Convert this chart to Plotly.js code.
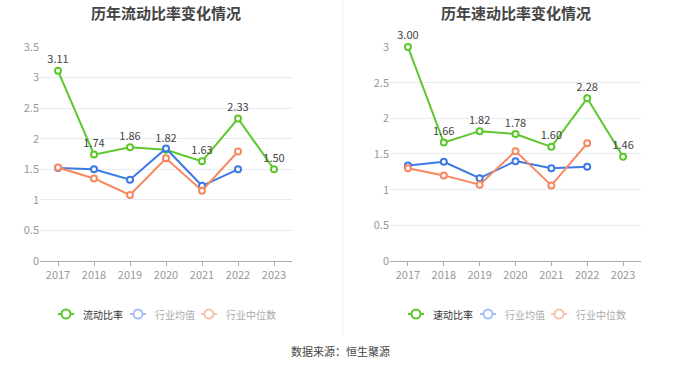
<!DOCTYPE html>
<html><head><meta charset="utf-8">
<script src="https://cdn.plot.ly/plotly-3.0.1.min.js"></script>
<style>html,body{margin:0;padding:0;background:#fff}#c{width:680px;height:367px}</style>
</head><body><div id="c"></div>
<script>
const years = ['2017','2018','2019','2020','2021','2022','2023'];
const currentRatio = [3.11, 1.74, 1.86, 1.82, 1.63, 2.33, 1.50];
const currentAvg = [1.52, 1.50, 1.33, 1.84, 1.23, 1.50];
const currentMedian = [1.53, 1.35, 1.08, 1.68, 1.15, 1.79];
const quickRatio = [3.00, 1.66, 1.82, 1.78, 1.60, 2.28, 1.46];
const quickAvg = [1.34, 1.39, 1.16, 1.40, 1.30, 1.32];
const quickMedian = [1.30, 1.20, 1.07, 1.54, 1.06, 1.65];
const leftTicks = [0, 0.5, 1, 1.5, 2, 2.5, 3, 3.5];
const rightTicks = [0, 0.5, 1, 1.5, 2, 2.5, 3];
const leftLegend = ['流动比率', '行业均值', '行业中位数'];
const rightLegend = ['速动比率', '行业均值', '行业中位数'];

const GREEN = '#5cc72a', BLUE = '#3d79e6', ORANGE = '#f7875e';
const FONT = '"Noto Sans CJK SC", "Noto Sans", sans-serif';
const W = 680, H = 367;

function series(x, y, name, color, xa, ya, withText) {
  const t = {
    x: x, y: y, name: name, xaxis: xa, yaxis: ya, showlegend: false,
    type: 'scatter', mode: withText ? 'lines+markers+text' : 'lines+markers',
    line: {color: color, width: 2},
    marker: {symbol: 'circle', size: 6, color: '#fff', line: {color: color, width: 2}},
    hoverinfo: 'none', cliponaxis: false
  };
  if (withText) {
    t.text = y.map(v => v.toFixed(2));
    t.textposition = 'top center';
    t.textfont = {size: 11, color: '#444', family: FONT};
  }
  return t;
}

const data = [
  series(years, currentRatio, leftLegend[0], GREEN, 'x', 'y', true),
  series(years.slice(0, 6), currentAvg, leftLegend[1], BLUE, 'x', 'y', false),
  series(years.slice(0, 6), currentMedian, leftLegend[2], ORANGE, 'x', 'y', false),
  series(years, quickRatio, rightLegend[0], GREEN, 'x2', 'y2', true),
  series(years.slice(0, 6), quickAvg, rightLegend[1], BLUE, 'x2', 'y2', false),
  series(years.slice(0, 6), quickMedian, rightLegend[2], ORANGE, 'x2', 'y2', false)
];

const xax = (dom, anchor) => ({
  domain: dom, anchor: anchor, type: 'category', range: [-0.5, 6.5],
  showgrid: false, showline: true, linecolor: '#aaa', linewidth: 1,
  ticks: 'outside', ticklen: 4, tickcolor: '#aaa',
  tickfont: {size: 11, color: '#999', family: FONT}, fixedrange: true
});
const yax = (range, ticks, anchor) => ({
  domain: [0.2888, 0.872], anchor: anchor, range: range,
  tickvals: ticks, ticktext: ticks.map(String),
  showgrid: true, gridcolor: '#e8ebf2', gridwidth: 1, zeroline: false, showline: false,
  ticks: '', tickfont: {size: 11, color: '#999', family: FONT}, fixedrange: true
});

const shapes = [
  {type: 'line', xref: 'paper', yref: 'paper', x0: 343/W, x1: 343/W, y0: (H-336)/H, y1: 1,
   line: {color: '#f0f0f0', width: 1}}
];
const annotations = [
  {text: '<b>历年流动比率变化情况</b>', xref: 'paper', yref: 'paper', x: 166/W, y: (H-12)/H,
   xanchor: 'center', yanchor: 'middle', showarrow: false, font: {size: 15, color: '#444', family: FONT}},
  {text: '<b>历年速动比率变化情况</b>', xref: 'paper', yref: 'paper', x: 516/W, y: (H-12)/H,
   xanchor: 'center', yanchor: 'middle', showarrow: false, font: {size: 15, color: '#444', family: FONT}},
  {text: '数据来源：恒生聚源', xref: 'paper', yref: 'paper', x: 0.5, y: (H-351)/H,
   xanchor: 'center', yanchor: 'middle', showarrow: false, font: {size: 11, color: '#444', family: FONT}}
];

// manual legends
const legColors = ['#5cc72a', '#a4bff2', '#f9c2ac'];
const legText = ['#333', '#aaa', '#aaa'];
function addLegend(names, starts) {
  const ly = 314;
  names.forEach((n, i) => {
    const x0 = starts[i], cx = x0 + 8;
    shapes.push({type: 'line', xref: 'paper', yref: 'paper', x0: x0/W, x1: (x0+16)/W, y0: (H-ly)/H, y1: (H-ly)/H,
      line: {color: legColors[i], width: 2}});
    shapes.push({type: 'circle', xref: 'paper', yref: 'paper', x0: (cx-4.5)/W, x1: (cx+4.5)/W,
      y0: (H-ly-4.5)/H, y1: (H-ly+4.5)/H, fillcolor: '#fff', line: {color: legColors[i], width: 2}});
    annotations.push({text: n, xref: 'paper', yref: 'paper', x: (x0+23)/W, y: (H-ly)/H,
      xanchor: 'left', yanchor: 'middle', showarrow: false, font: {size: 10, color: legText[i], family: FONT}});
  });
}
addLegend(leftLegend, [58, 130, 201]);
addLegend(rightLegend, [408, 480, 551]);

const layout = {
  width: W, height: H, margin: {l: 0, r: 0, t: 0, b: 0},
  paper_bgcolor: '#fff', plot_bgcolor: '#fff',
  font: {family: FONT}, showlegend: false,
  xaxis: xax([40/W, 292/W], 'y'),
  yaxis: yax([0, 3.5], leftTicks, 'x'),
  xaxis2: xax([390/W, 641/W], 'y2'),
  yaxis2: yax([0, 3], rightTicks, 'x2'),
  shapes: shapes, annotations: annotations
};

Plotly.newPlot('c', data, layout, {staticPlot: true, displayModeBar: false});
</script></body></html>
